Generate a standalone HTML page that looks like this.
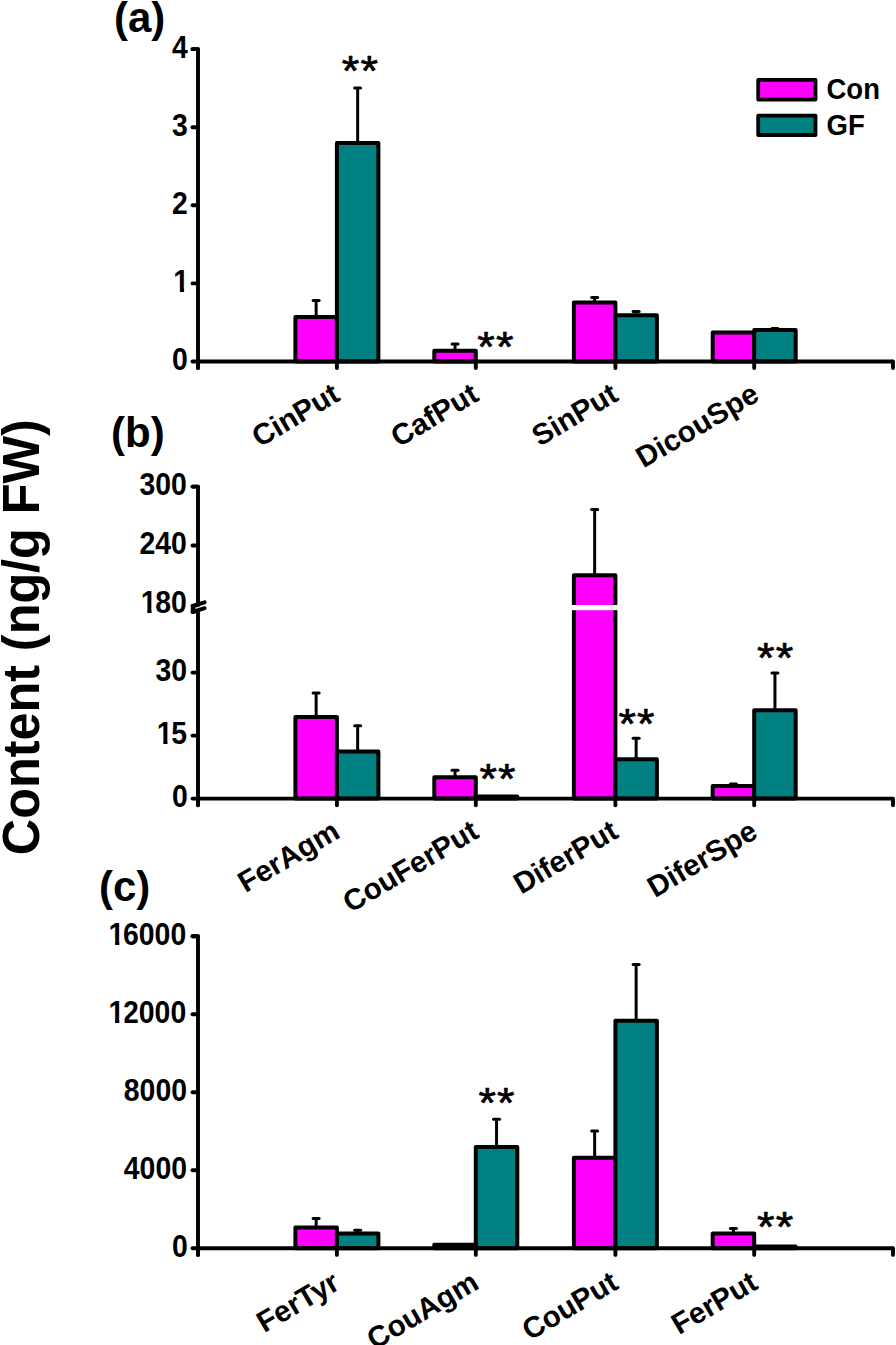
<!DOCTYPE html>
<html><head><meta charset="utf-8"><style>
html,body{margin:0;padding:0;background:#fff;}
svg{display:block;}
text{font-family:"Liberation Sans", sans-serif;fill:#000;}
.tl{font-size:28.4px;font-weight:bold;}
.xl{font-size:29.5px;font-weight:bold;}
.st{font-size:45px;letter-spacing:1.2px;}
.pl{font-size:42px;font-weight:bold;}
.lg{font-size:27.5px;font-weight:bold;}
.yt{font-size:50.35px;font-weight:bold;}
</style></head><body>
<svg width="896" height="1345" viewBox="0 0 896 1345">
<rect width="896" height="1345" fill="#fff"/>
<line x1="316.15" y1="300.5" x2="316.15" y2="317" stroke="#000" stroke-width="3.0"/>
<line x1="313.15" y1="300.5" x2="319.15" y2="300.5" stroke="#000" stroke-width="3.0" stroke-linecap="round"/>
<line x1="357.65" y1="88" x2="357.65" y2="143" stroke="#000" stroke-width="3.0"/>
<line x1="354.65" y1="88" x2="360.65" y2="88" stroke="#000" stroke-width="3.0" stroke-linecap="round"/>
<rect x="295.4" y="317" width="41.5" height="44.5" fill="#FF00FF" stroke="#000" stroke-width="4.0" stroke-linejoin="round"/>
<rect x="336.9" y="143" width="41.5" height="218.5" fill="#008080" stroke="#000" stroke-width="4.0" stroke-linejoin="round"/>
<line x1="455.05" y1="344" x2="455.05" y2="350.8" stroke="#000" stroke-width="3.0"/>
<line x1="452.05" y1="344" x2="458.05" y2="344" stroke="#000" stroke-width="3.0" stroke-linecap="round"/>
<rect x="434.3" y="350.8" width="41.5" height="10.699999999999989" fill="#FF00FF" stroke="#000" stroke-width="4.0" stroke-linejoin="round"/>
<line x1="594.65" y1="297.4" x2="594.65" y2="302.4" stroke="#000" stroke-width="3.0"/>
<line x1="591.65" y1="297.4" x2="597.65" y2="297.4" stroke="#000" stroke-width="3.0" stroke-linecap="round"/>
<line x1="636.15" y1="311.5" x2="636.15" y2="315.2" stroke="#000" stroke-width="3.0"/>
<line x1="633.15" y1="311.5" x2="639.15" y2="311.5" stroke="#000" stroke-width="3.0" stroke-linecap="round"/>
<rect x="573.9" y="302.4" width="41.5" height="59.10000000000002" fill="#FF00FF" stroke="#000" stroke-width="4.0" stroke-linejoin="round"/>
<rect x="615.4" y="315.2" width="41.5" height="46.30000000000001" fill="#008080" stroke="#000" stroke-width="4.0" stroke-linejoin="round"/>
<line x1="774.95" y1="328.5" x2="774.95" y2="330" stroke="#000" stroke-width="3.0"/>
<line x1="771.95" y1="328.5" x2="777.95" y2="328.5" stroke="#000" stroke-width="3.0" stroke-linecap="round"/>
<rect x="712.7" y="332.6" width="41.5" height="28.899999999999977" fill="#FF00FF" stroke="#000" stroke-width="4.0" stroke-linejoin="round"/>
<rect x="754.2" y="330" width="41.5" height="31.5" fill="#008080" stroke="#000" stroke-width="4.0" stroke-linejoin="round"/>
<line x1="198" y1="361.5" x2="893" y2="361.5" stroke="#000" stroke-width="3.9" stroke-linecap="butt"/>
<line x1="336.9" y1="361.5" x2="336.9" y2="368.1" stroke="#000" stroke-width="3.9" stroke-linecap="round"/>
<line x1="475.8" y1="361.5" x2="475.8" y2="368.1" stroke="#000" stroke-width="3.9" stroke-linecap="round"/>
<line x1="615.4" y1="361.5" x2="615.4" y2="368.1" stroke="#000" stroke-width="3.9" stroke-linecap="round"/>
<line x1="754.2" y1="361.5" x2="754.2" y2="368.1" stroke="#000" stroke-width="3.9" stroke-linecap="round"/>
<line x1="893" y1="361.5" x2="893" y2="368.1" stroke="#000" stroke-width="3.9" stroke-linecap="round"/>
<line x1="198" y1="361.5" x2="198" y2="368.1" stroke="#000" stroke-width="3.9" stroke-linecap="round"/>
<path d="M192.5,49.1 L198,49.1 L198,368.1" fill="none" stroke="#000" stroke-width="3.9" stroke-linecap="round" stroke-linejoin="round"/>
<line x1="192.5" y1="49.1" x2="198" y2="49.1" stroke="#000" stroke-width="3.9" stroke-linecap="round"/>
<text transform="translate(0,57.5) scale(1,1.1)" class="tl"><tspan x="172.01">4</tspan></text>
<line x1="192.5" y1="127.2" x2="198" y2="127.2" stroke="#000" stroke-width="3.9" stroke-linecap="round"/>
<text transform="translate(0,135.6) scale(1,1.1)" class="tl"><tspan x="172.01">3</tspan></text>
<line x1="192.5" y1="205.3" x2="198" y2="205.3" stroke="#000" stroke-width="3.9" stroke-linecap="round"/>
<text transform="translate(0,213.7) scale(1,1.1)" class="tl"><tspan x="172.01">2</tspan></text>
<line x1="192.5" y1="283.4" x2="198" y2="283.4" stroke="#000" stroke-width="3.9" stroke-linecap="round"/>
<text transform="translate(0,291.8) scale(1,1.1)" class="tl"><tspan x="173.31">1</tspan></text>
<rect x="173.51" y="287.70" width="6.34" height="4.8" fill="#fff"/>
<rect x="184.11" y="287.70" width="5.2" height="4.8" fill="#fff"/>
<line x1="192.5" y1="361.5" x2="198" y2="361.5" stroke="#000" stroke-width="3.9" stroke-linecap="round"/>
<text transform="translate(0,369.9) scale(1,1.1)" class="tl"><tspan x="172.01">0</tspan></text>
<text transform="translate(341.8,84.9) scale(1,0.95)" class="st" stroke="#000" stroke-width="0.7">**</text>
<text transform="translate(477.3,361.3) scale(1,0.95)" class="st" stroke="#000" stroke-width="0.7">**</text>
<text transform="translate(341.5,399.5) rotate(-30.5)" class="xl" text-anchor="end">CinPut</text>
<text transform="translate(480.5,399.5) rotate(-30.5)" class="xl" text-anchor="end">CafPut</text>
<text transform="translate(620,399.5) rotate(-30.5)" class="xl" text-anchor="end">SinPut</text>
<text transform="translate(760.8,399.5) rotate(-30.5)" class="xl" text-anchor="end">DicouSpe</text>
<line x1="316.15" y1="693" x2="316.15" y2="717.1" stroke="#000" stroke-width="3.0"/>
<line x1="313.15" y1="693" x2="319.15" y2="693" stroke="#000" stroke-width="3.0" stroke-linecap="round"/>
<line x1="357.65" y1="725.7" x2="357.65" y2="751.4" stroke="#000" stroke-width="3.0"/>
<line x1="354.65" y1="725.7" x2="360.65" y2="725.7" stroke="#000" stroke-width="3.0" stroke-linecap="round"/>
<rect x="295.4" y="717.1" width="41.5" height="81.5" fill="#FF00FF" stroke="#000" stroke-width="4.0" stroke-linejoin="round"/>
<rect x="336.9" y="751.4" width="41.5" height="47.200000000000045" fill="#008080" stroke="#000" stroke-width="4.0" stroke-linejoin="round"/>
<line x1="455.05" y1="770.3" x2="455.05" y2="777.3" stroke="#000" stroke-width="3.0"/>
<line x1="452.05" y1="770.3" x2="458.05" y2="770.3" stroke="#000" stroke-width="3.0" stroke-linecap="round"/>
<rect x="434.3" y="777.3" width="41.5" height="21.300000000000068" fill="#FF00FF" stroke="#000" stroke-width="4.0" stroke-linejoin="round"/>
<rect x="475.8" y="796.5" width="41.49999999999994" height="2.1000000000000227" fill="#008080" stroke="#000" stroke-width="4.0" stroke-linejoin="round"/>
<line x1="594.65" y1="509.5" x2="594.65" y2="575.3" stroke="#000" stroke-width="3.0"/>
<line x1="591.65" y1="509.5" x2="597.65" y2="509.5" stroke="#000" stroke-width="3.0" stroke-linecap="round"/>
<line x1="636.15" y1="738.3" x2="636.15" y2="759.3" stroke="#000" stroke-width="3.0"/>
<line x1="633.15" y1="738.3" x2="639.15" y2="738.3" stroke="#000" stroke-width="3.0" stroke-linecap="round"/>
<rect x="573.9" y="575.3" width="41.5" height="223.30000000000007" fill="#FF00FF" stroke="#000" stroke-width="4.0" stroke-linejoin="round"/>
<rect x="615.4" y="759.3" width="41.5" height="39.30000000000007" fill="#008080" stroke="#000" stroke-width="4.0" stroke-linejoin="round"/>
<line x1="733.45" y1="784" x2="733.45" y2="786" stroke="#000" stroke-width="3.0"/>
<line x1="730.45" y1="784" x2="736.45" y2="784" stroke="#000" stroke-width="3.0" stroke-linecap="round"/>
<line x1="774.95" y1="672.9" x2="774.95" y2="710.2" stroke="#000" stroke-width="3.0"/>
<line x1="771.95" y1="672.9" x2="777.95" y2="672.9" stroke="#000" stroke-width="3.0" stroke-linecap="round"/>
<rect x="712.7" y="786" width="41.5" height="12.600000000000023" fill="#FF00FF" stroke="#000" stroke-width="4.0" stroke-linejoin="round"/>
<rect x="754.2" y="710.2" width="41.5" height="88.39999999999998" fill="#008080" stroke="#000" stroke-width="4.0" stroke-linejoin="round"/>
<rect x="571.4" y="605" width="46.5" height="5.2" fill="#fff"/>
<line x1="198" y1="798.6" x2="893" y2="798.6" stroke="#000" stroke-width="3.9" stroke-linecap="butt"/>
<line x1="336.9" y1="798.6" x2="336.9" y2="805.2" stroke="#000" stroke-width="3.9" stroke-linecap="round"/>
<line x1="475.8" y1="798.6" x2="475.8" y2="805.2" stroke="#000" stroke-width="3.9" stroke-linecap="round"/>
<line x1="615.4" y1="798.6" x2="615.4" y2="805.2" stroke="#000" stroke-width="3.9" stroke-linecap="round"/>
<line x1="754.2" y1="798.6" x2="754.2" y2="805.2" stroke="#000" stroke-width="3.9" stroke-linecap="round"/>
<line x1="893" y1="798.6" x2="893" y2="805.2" stroke="#000" stroke-width="3.9" stroke-linecap="round"/>
<line x1="198" y1="798.6" x2="198" y2="805.2" stroke="#000" stroke-width="3.9" stroke-linecap="round"/>
<path d="M192.5,486.6 L198,486.6 L198,805.2" fill="none" stroke="#000" stroke-width="3.9" stroke-linecap="round" stroke-linejoin="round"/>
<line x1="192.5" y1="486.6" x2="198" y2="486.6" stroke="#000" stroke-width="3.9" stroke-linecap="round"/>
<text transform="translate(0,495.0) scale(1,1.1)" class="tl"><tspan x="139.43">3</tspan><tspan x="155.22">0</tspan><tspan x="171.01">0</tspan></text>
<line x1="192.5" y1="545.5" x2="198" y2="545.5" stroke="#000" stroke-width="3.9" stroke-linecap="round"/>
<text transform="translate(0,553.9) scale(1,1.1)" class="tl"><tspan x="139.43">2</tspan><tspan x="155.22">4</tspan><tspan x="171.01">0</tspan></text>
<line x1="192.5" y1="672.6" x2="198" y2="672.6" stroke="#000" stroke-width="3.9" stroke-linecap="round"/>
<text transform="translate(0,681.0) scale(1,1.1)" class="tl"><tspan x="155.42">3</tspan><tspan x="171.21">0</tspan></text>
<line x1="192.5" y1="735.6" x2="198" y2="735.6" stroke="#000" stroke-width="3.9" stroke-linecap="round"/>
<text transform="translate(0,744.0) scale(1,1.1)" class="tl"><tspan x="156.72">1</tspan><tspan x="171.21">5</tspan></text>
<rect x="156.92" y="739.90" width="6.34" height="4.8" fill="#fff"/>
<rect x="167.52" y="739.90" width="5.2" height="4.8" fill="#fff"/>
<line x1="192.5" y1="798.6" x2="198" y2="798.6" stroke="#000" stroke-width="3.9" stroke-linecap="round"/>
<text transform="translate(0,807.0) scale(1,1.1)" class="tl"><tspan x="172.01">0</tspan></text>
<text transform="translate(0,612.8) scale(1,1.1)" class="tl"><tspan x="140.73">1</tspan><tspan x="155.22">8</tspan><tspan x="171.01">0</tspan></text>
<rect x="140.93" y="608.70" width="6.34" height="4.8" fill="#fff"/>
<rect x="151.53" y="608.70" width="5.2" height="4.8" fill="#fff"/>
<line x1="193.5" y1="609.6" x2="207" y2="605.3" stroke="#fff" stroke-width="2.2"/>
<line x1="192.6" y1="606" x2="204.6" y2="602.3" stroke="#000" stroke-width="4" stroke-linecap="round"/>
<line x1="192.6" y1="612" x2="204.6" y2="608.2" stroke="#000" stroke-width="4" stroke-linecap="round"/>
<rect x="190.8" y="604" width="4.6" height="9.8" rx="1.5" fill="#000"/>
<text transform="translate(479.4,793.4) scale(1,0.95)" class="st" stroke="#000" stroke-width="0.7">**</text>
<text transform="translate(618.4,737.8) scale(1,0.95)" class="st" stroke="#000" stroke-width="0.7">**</text>
<text transform="translate(757.1,672.4) scale(1,0.95)" class="st" stroke="#000" stroke-width="0.7">**</text>
<text transform="translate(341.5,836.6) rotate(-30.5)" class="xl" text-anchor="end">FerAgm</text>
<text transform="translate(480.5,836.6) rotate(-30.5)" class="xl" text-anchor="end">CouFerPut</text>
<text transform="translate(620,836.6) rotate(-30.5)" class="xl" text-anchor="end">DiferPut</text>
<text transform="translate(759.5,836.6) rotate(-30.5)" class="xl" text-anchor="end">DiferSpe</text>
<line x1="316.15" y1="1218.4" x2="316.15" y2="1227.5" stroke="#000" stroke-width="3.0"/>
<line x1="313.15" y1="1218.4" x2="319.15" y2="1218.4" stroke="#000" stroke-width="3.0" stroke-linecap="round"/>
<line x1="357.65" y1="1230.3" x2="357.65" y2="1233.5" stroke="#000" stroke-width="3.0"/>
<line x1="354.65" y1="1230.3" x2="360.65" y2="1230.3" stroke="#000" stroke-width="3.0" stroke-linecap="round"/>
<rect x="295.4" y="1227.5" width="41.5" height="20.799999999999955" fill="#FF00FF" stroke="#000" stroke-width="4.0" stroke-linejoin="round"/>
<rect x="336.9" y="1233.5" width="41.5" height="14.799999999999955" fill="#008080" stroke="#000" stroke-width="4.0" stroke-linejoin="round"/>
<line x1="496.55" y1="1119.3" x2="496.55" y2="1147" stroke="#000" stroke-width="3.0"/>
<line x1="493.55" y1="1119.3" x2="499.55" y2="1119.3" stroke="#000" stroke-width="3.0" stroke-linecap="round"/>
<rect x="434.3" y="1244.7" width="41.5" height="3.599999999999909" fill="#FF00FF" stroke="#000" stroke-width="4.0" stroke-linejoin="round"/>
<rect x="475.8" y="1147" width="41.49999999999994" height="101.29999999999995" fill="#008080" stroke="#000" stroke-width="4.0" stroke-linejoin="round"/>
<line x1="594.65" y1="1130.9" x2="594.65" y2="1157.8" stroke="#000" stroke-width="3.0"/>
<line x1="591.65" y1="1130.9" x2="597.65" y2="1130.9" stroke="#000" stroke-width="3.0" stroke-linecap="round"/>
<line x1="636.15" y1="964.4" x2="636.15" y2="1020.7" stroke="#000" stroke-width="3.0"/>
<line x1="633.15" y1="964.4" x2="639.15" y2="964.4" stroke="#000" stroke-width="3.0" stroke-linecap="round"/>
<rect x="573.9" y="1157.8" width="41.5" height="90.5" fill="#FF00FF" stroke="#000" stroke-width="4.0" stroke-linejoin="round"/>
<rect x="615.4" y="1020.7" width="41.5" height="227.5999999999999" fill="#008080" stroke="#000" stroke-width="4.0" stroke-linejoin="round"/>
<line x1="733.45" y1="1228.5" x2="733.45" y2="1233.5" stroke="#000" stroke-width="3.0"/>
<line x1="730.45" y1="1228.5" x2="736.45" y2="1228.5" stroke="#000" stroke-width="3.0" stroke-linecap="round"/>
<rect x="712.7" y="1233.5" width="41.5" height="14.799999999999955" fill="#FF00FF" stroke="#000" stroke-width="4.0" stroke-linejoin="round"/>
<rect x="754.2" y="1246.5" width="41.5" height="1.7999999999999545" fill="#008080" stroke="#000" stroke-width="4.0" stroke-linejoin="round"/>
<line x1="198" y1="1248.3" x2="893" y2="1248.3" stroke="#000" stroke-width="3.9" stroke-linecap="butt"/>
<line x1="336.9" y1="1248.3" x2="336.9" y2="1254.8999999999999" stroke="#000" stroke-width="3.9" stroke-linecap="round"/>
<line x1="475.8" y1="1248.3" x2="475.8" y2="1254.8999999999999" stroke="#000" stroke-width="3.9" stroke-linecap="round"/>
<line x1="615.4" y1="1248.3" x2="615.4" y2="1254.8999999999999" stroke="#000" stroke-width="3.9" stroke-linecap="round"/>
<line x1="754.2" y1="1248.3" x2="754.2" y2="1254.8999999999999" stroke="#000" stroke-width="3.9" stroke-linecap="round"/>
<line x1="893" y1="1248.3" x2="893" y2="1254.8999999999999" stroke="#000" stroke-width="3.9" stroke-linecap="round"/>
<line x1="198" y1="1248.3" x2="198" y2="1254.8999999999999" stroke="#000" stroke-width="3.9" stroke-linecap="round"/>
<path d="M192.5,936.3 L198,936.3 L198,1254.8999999999999" fill="none" stroke="#000" stroke-width="3.9" stroke-linecap="round" stroke-linejoin="round"/>
<line x1="192.5" y1="936.3" x2="198" y2="936.3" stroke="#000" stroke-width="3.9" stroke-linecap="round"/>
<text transform="translate(0,944.7) scale(1,1.1)" class="tl"><tspan x="108.55">1</tspan><tspan x="123.04">6</tspan><tspan x="138.83">0</tspan><tspan x="154.62">0</tspan><tspan x="170.41">0</tspan></text>
<rect x="108.75" y="940.60" width="6.34" height="4.8" fill="#fff"/>
<rect x="119.35" y="940.60" width="5.2" height="4.8" fill="#fff"/>
<line x1="192.5" y1="1014.3" x2="198" y2="1014.3" stroke="#000" stroke-width="3.9" stroke-linecap="round"/>
<text transform="translate(0,1022.7) scale(1,1.1)" class="tl"><tspan x="108.55">1</tspan><tspan x="123.04">2</tspan><tspan x="138.83">0</tspan><tspan x="154.62">0</tspan><tspan x="170.41">0</tspan></text>
<rect x="108.75" y="1018.60" width="6.34" height="4.8" fill="#fff"/>
<rect x="119.35" y="1018.60" width="5.2" height="4.8" fill="#fff"/>
<line x1="192.5" y1="1092.3" x2="198" y2="1092.3" stroke="#000" stroke-width="3.9" stroke-linecap="round"/>
<text transform="translate(0,1100.7) scale(1,1.1)" class="tl"><tspan x="123.84">8</tspan><tspan x="139.63">0</tspan><tspan x="155.42">0</tspan><tspan x="171.21">0</tspan></text>
<line x1="192.5" y1="1170.3" x2="198" y2="1170.3" stroke="#000" stroke-width="3.9" stroke-linecap="round"/>
<text transform="translate(0,1178.7) scale(1,1.1)" class="tl"><tspan x="123.84">4</tspan><tspan x="139.63">0</tspan><tspan x="155.42">0</tspan><tspan x="171.21">0</tspan></text>
<line x1="192.5" y1="1248.3" x2="198" y2="1248.3" stroke="#000" stroke-width="3.9" stroke-linecap="round"/>
<text transform="translate(0,1256.7) scale(1,1.1)" class="tl"><tspan x="172.01">0</tspan></text>
<text transform="translate(478.4,1117.4) scale(1,0.95)" class="st" stroke="#000" stroke-width="0.7">**</text>
<text transform="translate(757.1,1241.1) scale(1,0.95)" class="st" stroke="#000" stroke-width="0.7">**</text>
<text transform="translate(341.5,1287.8) rotate(-30.5)" class="xl" text-anchor="end">FerTyr</text>
<text transform="translate(480.5,1287.8) rotate(-30.5)" class="xl" text-anchor="end">CouAgm</text>
<text transform="translate(620,1287.8) rotate(-30.5)" class="xl" text-anchor="end">CouPut</text>
<text transform="translate(759.5,1287.8) rotate(-30.5)" class="xl" text-anchor="end">FerPut</text>
<text x="114" y="32" class="pl">(a)</text>
<text x="111" y="447.3" class="pl">(b)</text>
<text x="99" y="901.3" class="pl">(c)</text>
<rect x="758.2" y="79.9" width="57.3" height="19.7" fill="#FF00FF" stroke="#000" stroke-width="3.8" stroke-linejoin="round"/>
<rect x="758.2" y="115.7" width="57.3" height="19.3" fill="#008080" stroke="#000" stroke-width="3.8" stroke-linejoin="round"/>
<text transform="translate(826.5,99.2) scale(1,1.07)" class="lg">Con</text>
<text transform="translate(826.5,135.2) scale(1,1.07)" class="lg">GF</text>
<text transform="translate(38.8,855.2) rotate(-90) scale(1,1.024)" class="yt">Content (ng/g FW)</text>
</svg>
</body></html>
